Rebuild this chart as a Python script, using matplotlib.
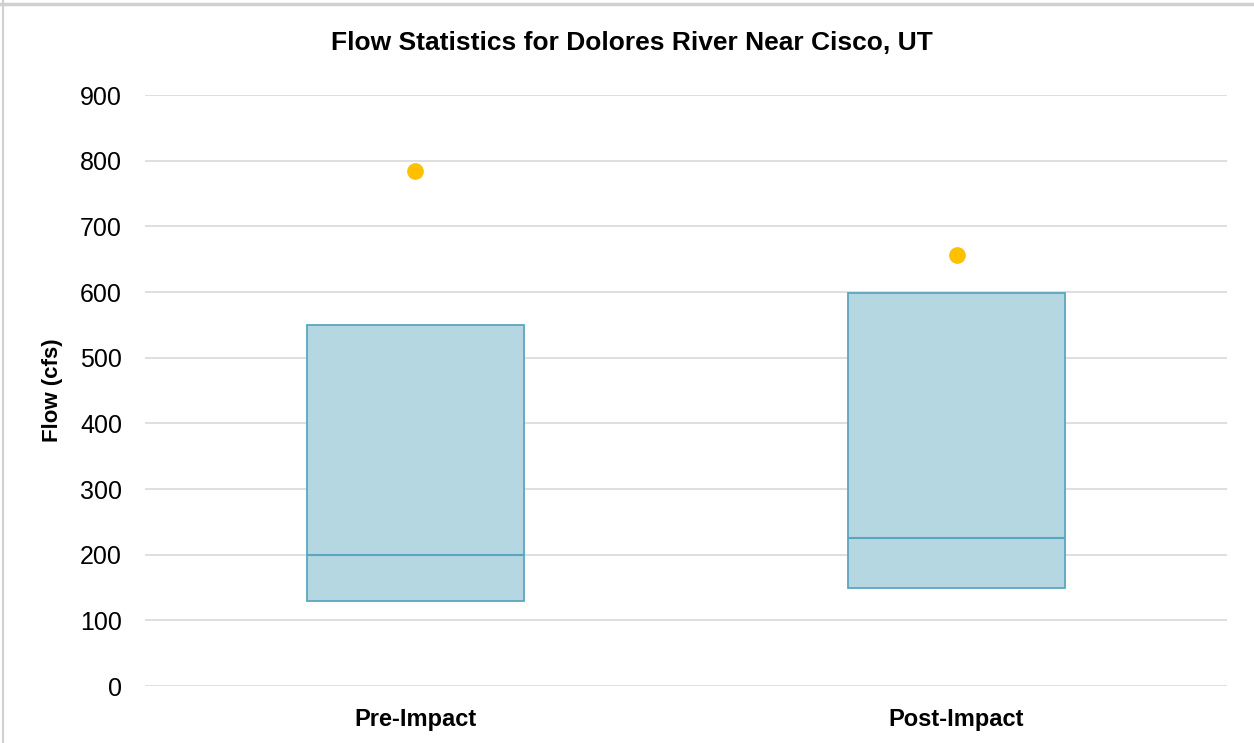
import matplotlib
matplotlib.use("Agg")
import matplotlib.pyplot as plt

categories = ["Pre-Impact", "Post-Impact"]
q1_values = [130, 150]
median_values = [200, 225]
q3_values = [550, 598]
dot_values = [785, 656]
y_ticks = [0, 100, 200, 300, 400, 500, 600, 700, 800, 900]

title = "Flow Statistics for Dolores River Near Cisco, UT"
y_label = "Flow (cfs)"

plt.rcParams['font.family'] = ['Liberation Sans', 'DejaVu Sans']

fig = plt.figure(figsize=(12.54, 7.43), dpi=100)
ax = fig.add_axes([0.1156, 0.0767, 0.9785 - 0.1156, 0.8721 - 0.0767])

box_face = "#b4d7e2"
box_edge = "#5ba6bf"
width = 0.4
x = list(range(len(categories)))

heights = [q3 - q1 for q1, q3 in zip(q1_values, q3_values)]
ax.bar(x, heights, bottom=q1_values, width=width, color=box_face,
       edgecolor=box_edge, linewidth=1.3, zorder=3)
for xi, m in zip(x, median_values):
    ax.hlines(m, xi - width / 2, xi + width / 2, color=box_edge, linewidth=1.5, zorder=4)
ax.plot(x, dot_values, linestyle="none", marker="o", markersize=11,
        color="#ffc000", markeredgecolor="#ffc000", zorder=5)

ax.set_xlim(-0.5, len(categories) - 0.5)
ax.set_ylim(0, 900)
ax.set_yticks(y_ticks)
ax.set_yticklabels([str(t) for t in y_ticks], fontsize=18)
ax.set_xticks(x)
ax.set_xticklabels(categories, fontsize=17, fontweight="bold")
ax.tick_params(axis="both", length=0)
ax.tick_params(axis="y", pad=16.5)
ax.tick_params(axis="x", pad=16)
ax.grid(axis="y", color="#d9d9d9", linewidth=1.2, zorder=0)
ax.set_axisbelow(True)
for s in ax.spines.values():
    s.set_visible(False)

ax.set_ylabel(y_label, fontsize=16, fontweight="bold", labelpad=12)
fig.text(0.5036, 0.942, title, ha="center", va="center", fontsize=19,
         fontweight="bold")

# thin figure frame on top/left
fig.add_artist(plt.Line2D([0, 1], [0.995, 0.995], color="#d0d0d0", linewidth=2.5, transform=fig.transFigure))
fig.add_artist(plt.Line2D([0.002, 0.002], [0, 1], color="#d0d0d0", linewidth=1.5, transform=fig.transFigure))

fig.savefig("out.png", dpi=100)
